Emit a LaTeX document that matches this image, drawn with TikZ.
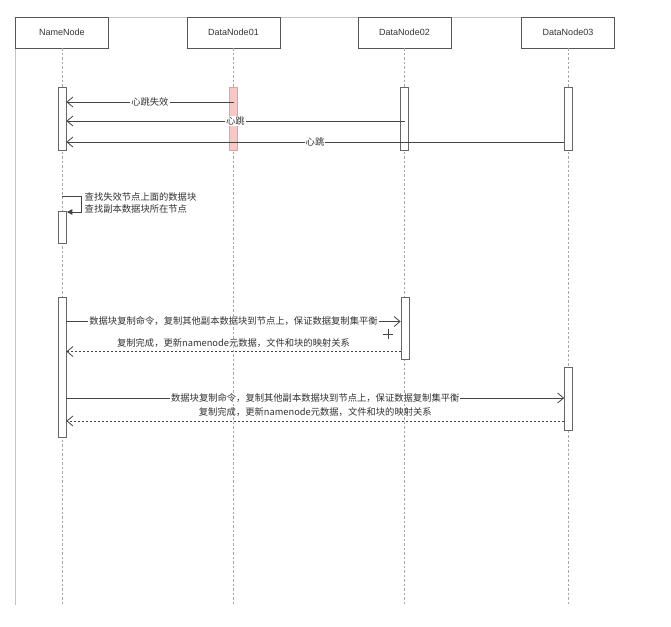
\documentclass[tikz,border=0pt]{standalone}
\usepackage{fontspec}
\setmainfont{Liberation Sans}
\newfontfamily\cjk{Noto Sans CJK SC}
\usetikzlibrary{arrows.meta}
\definecolor{txt}{HTML}{333333}
\definecolor{boxgray}{HTML}{555555}
\definecolor{actgray}{HTML}{666666}
\definecolor{lifegray}{HTML}{A8A8A8}
\definecolor{arrowgray}{HTML}{444444}
\definecolor{framegray}{HTML}{C4C4C4}
\definecolor{pinkfill}{HTML}{F6C8C8}
\definecolor{pinkdraw}{HTML}{E3A0A0}
\begin{document}
\begin{tikzpicture}[x=1pt,y=-1pt,
  hdr/.style={draw=boxgray, fill=white, line width=0.8pt, minimum width=93pt, minimum height=31pt, inner sep=0pt, font=\fontsize{9}{11}\selectfont, text=txt},
  act/.style={draw=actgray, fill=white, line width=0.7pt, minimum width=8pt, inner sep=0pt},
  life/.style={draw=lifegray, dash pattern=on 2.5pt off 2pt, line width=0.8pt},
  msg/.style={draw=arrowgray, line width=0.8pt, -{Straight Barb[length=6pt,width=10pt]}},
  ret/.style={msg, dash pattern=on 2pt off 2pt},
  selfmsg/.style={draw=arrowgray, line width=0.8pt, -{Triangle[length=5.5pt,width=5.5pt]}},
  lbl/.style={font=\cjk\fontsize{9.3}{11}\selectfont, text=txt, fill=white, inner sep=1pt},
  note/.style={font=\cjk\fontsize{9.3}{12.5}\selectfont, text=txt, inner sep=0pt, align=left}]
\fill[white] (0,0) rectangle (671,626);
\useasboundingbox (0,0) rectangle (671,626);
% frame
\draw[framegray, line width=0.8pt] (15.5,17) -- (15.5,605);
\draw[framegray, line width=0.8pt] (15.5,17) -- (614.5,17);
% headers
\node[hdr] (nn) at (62,32.5) {NameNode};
\node[hdr] (d1) at (233.5,32.5) {DataNode01};
\node[hdr] (d2) at (404.5,32.5) {DataNode02};
\node[hdr] (d3) at (568,32.5) {DataNode03};
% lifeline ends
\coordinate (nnE) at (62,606);
\coordinate (d1E) at (233.5,606);
\coordinate (d2E) at (404.5,606);
\coordinate (d3E) at (568,606);
\draw[life] (nn.south) -- (nnE);
\draw[life] (d1.south) -- (d1E);
\draw[life] (d2.south) -- (d2E);
\draw[life] (d3.south) -- (d3E);
% activations: heartbeat
\node[act, minimum height=63pt] (nnA1) at (62,118.5) {};
\node[act, minimum height=63pt, fill=pinkfill, draw=pinkdraw] (d1A) at (233.5,118.5) {};
\node[act, minimum height=63pt] (d2A) at (404.5,118.5) {};
\node[act, minimum height=63pt] (d3A) at (568,118.5) {};
% heartbeat messages
\draw[msg] (d1A.center |- 0,102) -- node[lbl] {心跳失效} (nnA1.east |- 0,102);
\draw[msg] (d2A.center |- 0,121) -- node[lbl] {心跳} (nnA1.east |- 0,121);
\draw[msg] (d3A.west |- 0,142) -- node[lbl] {心跳} (nnA1.east |- 0,142);
% self message
\node[act, minimum height=32pt] (nnA2) at (62.5,227) {};
\draw[selfmsg] (nn.south |- 0,196) -- (81,196) -- (81,212) -- (nnA2.east |- 0,212);
\node[note, anchor=west] (selfnote) at (84.5,203) {查找失效节点上面的数据块\\查找副本数据块所在节点};
% replication activations
\node[act, minimum height=140pt] (nnA3) at (62,367) {};
\node[act, minimum height=62pt] (d2B) at (405,328) {};
\node[act, minimum height=63pt] (d3B) at (568.5,398.5) {};
% replication to DataNode02
\draw[msg] (nnA3.east |- 0,321.5) -- node[lbl] {数据块复制命令，复制其他副本数据块到节点上，保证数据复制集平衡} (d2B.west |- 0,321.5);
\draw[ret] (d2B.west |- 0,351.5) -- node[lbl, yshift=8.5pt, fill=none] {复制完成，更新namenode元数据，文件和块的映射关系} (nnA3.east |- 0,351.5);
% replication to DataNode03
\draw[msg] (nnA3.east |- 0,398) -- node[lbl] {数据块复制命令，复制其他副本数据块到节点上，保证数据复制集平衡} (d3B.west |- 0,398);
\draw[ret] (d3B.west |- 0,421) -- node[lbl, yshift=8.5pt, fill=none] {复制完成，更新namenode元数据，文件和块的映射关系} (nnA3.east |- 0,421);
% cursor mark
\draw[arrowgray, line width=0.7pt] (383,334) -- (393,334) (388,329) -- (388,339);
\end{tikzpicture}
\end{document}
